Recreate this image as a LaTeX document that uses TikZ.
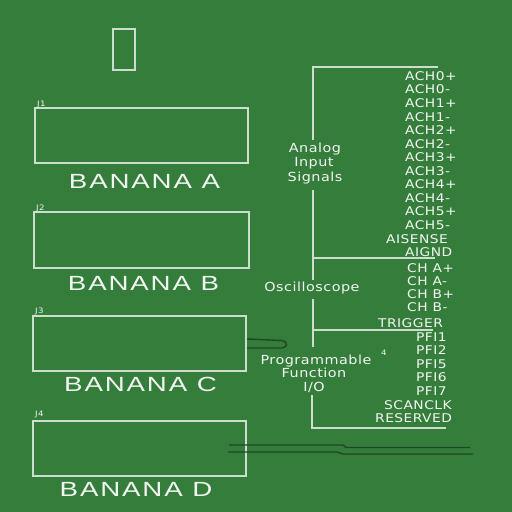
\documentclass[tikz,border=0pt]{standalone}
\usepackage{fontspec}
\usepackage{xcolor}
\setmainfont{DejaVu Sans}
\newfontfamily\pinfont[FakeStretch=1.15,LetterSpace=4]{DejaVu Sans}
\newfontfamily\groupfont[FakeStretch=1.15,LetterSpace=4]{DejaVu Sans}
\newfontfamily\bananafont[FakeStretch=1.35,LetterSpace=9]{Liberation Sans}
\definecolor{boardgreen}{RGB}{53,125,59}
\definecolor{silk}{RGB}{206,222,206}
\definecolor{silktext}{RGB}{242,246,242}
\definecolor{trace}{RGB}{30,72,34}

\begin{document}
\begin{tikzpicture}[x=1pt,y=-1pt]
\tikzset{
    silkline/.style={silk,line width=1.2pt},
    traceline/.style={trace,line width=1.4pt},
    pin/.style={silktext,anchor=west,inner sep=0pt,font=\fontsize{12}{12}\pinfont},
    group/.style={silktext,anchor=base,inner sep=0pt,font=\fontsize{12.5}{12.5}\groupfont},
    banana/.style={silktext,anchor=base,inner sep=0pt,font=\fontsize{20.5}{20.5}\bananafont},
    ref/.style={silktext,anchor=base west,inner sep=0pt,font=\fontsize{7.5}{7.5}\pinfont}
}
\fill[boardgreen] (0,0) rectangle (512,512);

% small outline at the top
\draw[silkline] (113,29) rectangle (135,70);

% the four banana jacks
\draw[silkline] (35,108) rectangle (248,163);
\node[ref] (j1) at (37,106) {J1};
\node[banana] (bananaA) at (144.5,188) {BANANA A};

\draw[silkline] (34,212) rectangle (249,268);
\node[ref] (j2) at (36,210) {J2};
\node[banana] (bananaB) at (143.5,290) {BANANA B};

\draw[silkline] (33,316) rectangle (246,371);
\node[ref] (j3) at (35,313) {J3};
\node[banana] (bananaC) at (140.5,391.5) {BANANA C};

\draw[silkline] (33,421) rectangle (246,476);
\node[ref] (j4) at (35,416) {J4};
\node[banana] (bananaD) at (136,496.5) {BANANA D};

% copper traces
\draw[traceline] (247,339) -- (282,340.5)
    .. controls (288,341.5) and (288,347.5) .. (282,348) -- (247,348);
\draw[traceline] (229,445) -- (343,445) -- (346,447.5) -- (470,447.5);
\draw[traceline] (228,452) -- (337,452) -- (343,454) -- (473,454);

% bracket of the signal groups
\draw[silkline] (438,67) -- (313,67) -- (313,140);
\draw[silkline] (313,190) -- (313,280);
\draw[silkline] (313,258) -- (435,258);
\draw[silkline] (313,299) -- (313,347);
\draw[silkline] (313,330) -- (433,330);
\draw[silkline] (312,395) -- (312,428) -- (446,428);

\node[group] (analog)  at (315,152.5) {Analog};
\node[group] (input)   at (314,166.7) {Input};
\node[group] (signals) at (315,181.5) {Signals};
\node[group] (scope)   at (312,291.7) {Oscilloscope};
\node[group] (prog)    at (316,364)   {Programmable};
\node[group] (func)    at (314,377.3) {Function};
\node[group] (io)      at (314,391)   {I/O};

% analog input pins
\foreach \name [count=\i from 0] in {ACH0+,ACH0-,ACH1+,ACH1-,ACH2+,ACH2-,
        ACH3+,ACH3-,ACH4+,ACH4-,ACH5+,ACH5-}
    \node[pin] (ach\i) at (405,76+13.55*\i) {\name};
\node[pin] (aisense) at (386,239) {AISENSE};
\node[pin] (aignd)   at (405,252) {AIGND};

% oscilloscope pins
\node[pin] (cha+) at (407,268) {CH A+};
\node[pin] (cha-) at (407,281) {CH A-};
\node[pin] (chb+) at (407,294) {CH B+};
\node[pin] (chb-) at (407,307) {CH B-};

% programmable function pins
\node[pin] (trigger) at (378,323) {TRIGGER};
\node[pin] (pfi1) at (416,337) {PFI1};
\node[pin] (pfi2) at (416,350.5) {PFI2};
\node[pin] (pfi5) at (416,364) {PFI5};
\node[pin] (pfi6) at (416,377.5) {PFI6};
\node[pin] (pfi7) at (416,391) {PFI7};
\node[pin] (scanclk)  at (384,405) {SCANCLK};
\node[pin] (reserved) at (375,418) {RESERVED};
\node[ref] (four) at (381,355) {4};
\end{tikzpicture}
\end{document}
